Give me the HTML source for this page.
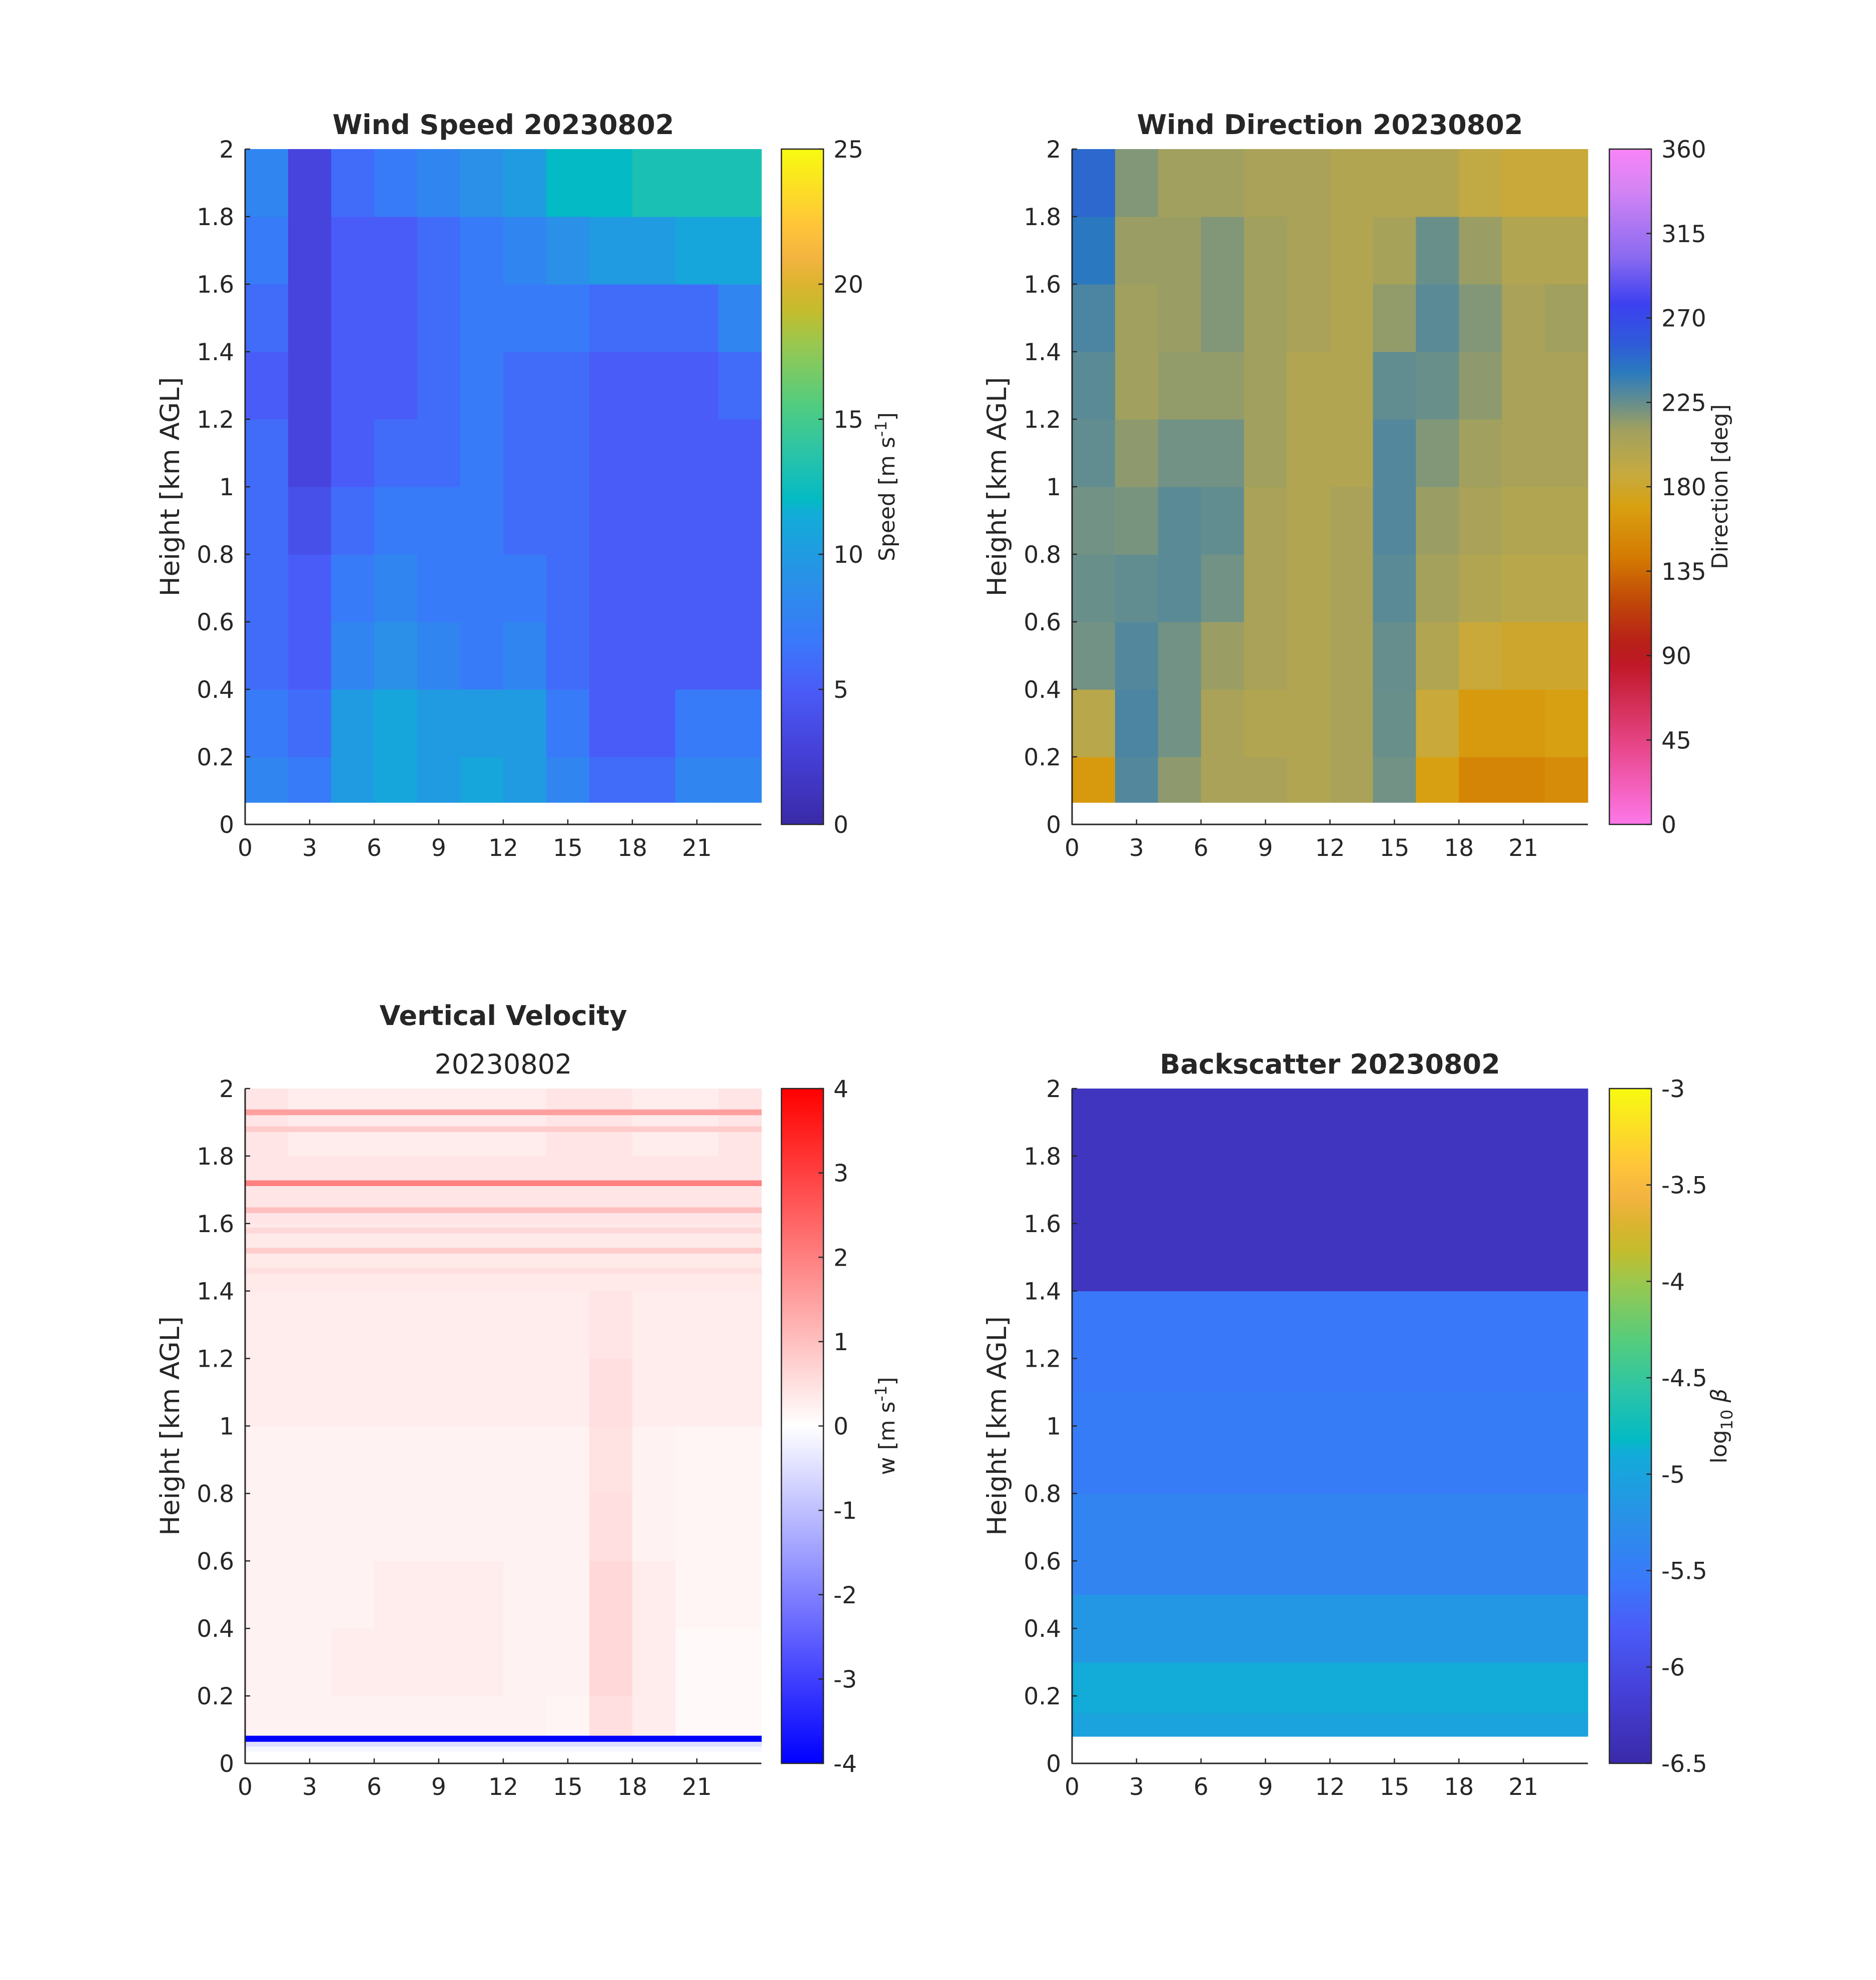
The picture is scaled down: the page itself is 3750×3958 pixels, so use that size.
<!DOCTYPE html>
<html><head><meta charset="utf-8"><style>
html,body{margin:0;padding:0;background:#fff}
svg{display:block}
text{font-family:"DejaVu Sans","Liberation Sans",sans-serif;fill:#262626}
</style></head><body>
<svg id="fig" width="3750" height="3958" viewBox="0 0 3750 3958" xmlns="http://www.w3.org/2000/svg">
<defs id="defs"></defs>
<g id="layer"></g>
</svg>
<script>
// ---------- data ----------
const hours = [1,3,5,7,9,11,13,15,17,19,21,23];
const heights = [0.1,0.3,0.5,0.7,0.9,1.1,1.3,1.5,1.7,1.9];
const xTicks = [0,3,6,9,12,15,18,21];
const yTicks = [0,0.2,0.4,0.6,0.8,1,1.2,1.4,1.6,1.8,2];
const yTickLabels = ["0","0.2","0.4","0.6","0.8","1","1.2","1.4","1.6","1.8","2"];

const speed01 = [8,7,10,11,10,11,10,8,6,6,8,8];
const speed03 = [7,6,10,11,10,10,10,7,5,5,7,7];
const speed05 = [6,5,8,9,8,7,8,6,5,5,5,5];
const speed07 = [6,5,7,8,7,7,7,6,5,5,5,5];
const speed09 = [6,4,6,7,7,7,6,6,5,5,5,5];
const speed11 = [6,3,5,6,6,7,6,6,5,5,5,5];
const speed13 = [5,3,5,5,6,7,6,6,5,5,5,6];
const speed15 = [6,3,5,5,6,7,7,7,6,6,6,8];
const speed17 = [7,3,5,5,6,7,8,9,10,10,11,11];
const speed19 = [8,3,6,7,8,9,10,12,12,13,13,13];
const speedTicks = [0,5,10,15,20,25];

const dir01 = [165,230,215,205,205,200,205,222,170,150,150,155];
const dir03 = [195,232,222,205,200,200,205,224,185,165,165,170];
const dir05 = [222,230,222,212,205,200,205,225,200,185,180,180];
const dir07 = [224,226,228,222,205,200,205,228,208,200,195,195];
const dir09 = [222,220,228,226,205,200,205,230,212,205,200,200];
const dir11 = [226,215,222,222,210,200,200,230,218,210,205,205];
const dir13 = [228,210,214,214,210,200,200,226,224,215,205,205];
const dir15 = [232,210,212,218,210,205,200,214,228,218,205,210];
const dir17 = [242,212,212,218,210,205,200,206,224,212,200,200];
const dir19 = [250,218,210,210,205,205,200,200,200,190,185,185];
const dirTicks = [0,45,90,135,180,225,270,315,360];

const w01 = [0.2,0.2,0.2,0.2,0.2,0.2,0.2,0.15,0.5,0.3,0.1,0.1];
const w03 = [0.2,0.2,0.3,0.3,0.3,0.3,0.2,0.2,0.6,0.3,0.1,0.1];
const w05 = [0.2,0.2,0.2,0.3,0.3,0.3,0.2,0.2,0.6,0.3,0.15,0.15];
const w07 = [0.2,0.2,0.2,0.2,0.2,0.2,0.2,0.2,0.5,0.2,0.15,0.15];
const w09 = [0.2,0.2,0.2,0.2,0.2,0.2,0.2,0.2,0.45,0.2,0.15,0.15];
const w11 = [0.3,0.3,0.3,0.3,0.3,0.3,0.3,0.3,0.5,0.3,0.3,0.3];
const w13 = [0.3,0.3,0.3,0.3,0.3,0.3,0.3,0.3,0.4,0.3,0.3,0.3];
const w15 = [0.35,0.35,0.35,0.35,0.35,0.35,0.35,0.35,0.35,0.35,0.35,0.35];
const w17 = [0.4,0.4,0.4,0.4,0.4,0.4,0.4,0.4,0.4,0.4,0.4,0.4];
const w19 = [0.4,0.3,0.3,0.3,0.3,0.3,0.3,0.4,0.4,0.3,0.3,0.4];
const wStripeHeights = [1.93,1.88,1.72,1.64,1.58,1.52,1.46];
const wStripeValues = [1.5,0.8,2.0,1.0,0.6,0.8,0.5];
const wTicks = [-4,-3,-2,-1,0,1,2,3,4];

const bsBottoms = [0.08,0.15,0.3,0.5,0.8,1.1,1.4];
const bsTops = [0.15,0.3,0.5,0.8,1.1,1.4,2.0];
const bsValues = [-5.0,-4.9,-5.15,-5.4,-5.5,-5.55,-6.32];
const bsTicks = [-6.5,-6,-5.5,-5,-4.5,-4,-3.5,-3];
const bsTickLabels = ["-6.5","-6","-5.5","-5","-4.5","-4","-3.5","-3"];

// ---------- colormaps ----------
const seqStops=[[0,"#3a2aa8"],[0.107,"#4540d8"],[0.2,"#4a5cf8"],[0.27,"#3a78fa"],[0.36,"#2a90e8"],[0.46,"#12acd8"],[0.48,"#04bac4"],[0.55,"#2ac4a8"],[0.62,"#50cc80"],[0.71,"#98c850"],[0.76,"#c4bc2c"],[0.8,"#dcb430"],[0.84,"#f4b440"],[0.885,"#ffc43a"],[1,"#f8fa10"]];
const dirStops=[[0,"#fc78ea"],[0.107,"#ea4a90"],[0.235,"#c01828"],[0.27,"#b82018"],[0.33,"#c04808"],[0.395,"#d47a02"],[0.47,"#d8a010"],[0.52,"#c6aa40"],[0.585,"#a0a060"],[0.62,"#6c9088"],[0.67,"#2a7abe"],[0.71,"#2e5cd8"],[0.77,"#3c40f0"],[0.84,"#8a6af0"],[0.94,"#d484f4"],[1,"#f884f8"]];
const bwrStops=[[0,"#0000ff"],[0.5,"#ffffff"],[1,"#ff0000"]];
function hex(h){return [parseInt(h.substr(1,2),16),parseInt(h.substr(3,2),16),parseInt(h.substr(5,2),16)];}
function mkmap(stops){return function(t){t=Math.max(0,Math.min(1,t));for(let i=1;i<stops.length;i++){if(t<=stops[i][0]){const a=stops[i-1],b=stops[i];const f=(t-a[0])/(b[0]-a[0]||1);const ca=hex(a[1]),cb=hex(b[1]);return 'rgb('+ca.map((v,k)=>Math.round(v+(cb[k]-v)*f)).join(',')+')';}}return stops[stops.length-1][1];};}
const NS="http://www.w3.org/2000/svg";
function mkgrad(id,stops){const d=document.getElementById('defs');const g=document.createElementNS(NS,'linearGradient');g.setAttribute('id',id);g.setAttribute('x1','0');g.setAttribute('y1','1');g.setAttribute('x2','0');g.setAttribute('y2','0');stops.forEach(s=>{const st=document.createElementNS(NS,'stop');st.setAttribute('offset',s[0]);st.setAttribute('stop-color',s[1]);g.appendChild(st);});d.appendChild(g);}
mkgrad('seq',seqStops);mkgrad('dirmap',dirStops);mkgrad('bwr',bwrStops);
const seq=mkmap(seqStops), dirmap=mkmap(dirStops), bwr=mkmap(bwrStops);

const layer=document.getElementById('layer');
function el(tag,attrs,parent){const e=document.createElementNS(NS,tag);for(const k in attrs)e.setAttribute(k,attrs[k]);(parent||layer).appendChild(e);return e;}

const panels=[
 {key:'speed',x0:490,x1:1522,y0:298,y1:1648,cb0:1562,cb1:1646,title:'Wind Speed 20230802',grad:'seq',ticks:speedTicks,tl:speedTicks.map(String),vmin:0,vmax:25,cmap:seq,cbLabel:'speed'},
 {key:'dir',x0:2143,x1:3174,y0:298,y1:1648,cb0:3217,cb1:3301,title:'Wind Direction 20230802',grad:'dirmap',ticks:dirTicks,tl:dirTicks.map(String),vmin:0,vmax:360,cmap:dirmap,cbLabel:'dir'},
 {key:'w',x0:490,x1:1522,y0:2176,y1:3525,cb0:1562,cb1:1646,title:'Vertical Velocity',sub:'20230802',grad:'bwr',ticks:wTicks,tl:wTicks.map(String),vmin:-4,vmax:4,cmap:bwr,cbLabel:'w'},
 {key:'bs',x0:2143,x1:3174,y0:2176,y1:3525,cb0:3217,cb1:3301,title:'Backscatter 20230802',grad:'seq',ticks:bsTicks,tl:bsTickLabels,vmin:-6.5,vmax:-3,cmap:seq,cbLabel:'bs'}
];

const speedGrid=[speed01,speed03,speed05,speed07,speed09,speed11,speed13,speed15,speed17,speed19];
const dirGrid=[dir01,dir03,dir05,dir07,dir09,dir11,dir13,dir15,dir17,dir19];
const wGrid=[w01,w03,w05,w07,w09,w11,w13,w15,w17,w19];

panels.forEach(p=>{
 const g=el('g',{});
 
 
 const X=t=>p.x0+(t/24)*(p.x1-p.x0);
 const Y=h=>p.y1-(h/2)*(p.y1-p.y0);
 const C=v=>p.cmap((v-p.vmin)/(p.vmax-p.vmin));
 const cells=el('g',{},g);
 
 
 function cell(t0,t1,h0,h1,v){const r=el('rect',{x:X(t0).toFixed(1),y:Y(h1).toFixed(1),width:(X(t1)-X(t0)+0.6).toFixed(1),height:(Y(h0)-Y(h1)+0.6).toFixed(1),fill:C(v)},cells);
  
  }
 if(p.key==='speed'||p.key==='dir'||p.key==='w'){
  const grid=p.key==='speed'?speedGrid:(p.key==='dir'?dirGrid:wGrid);
  const bottom=p.key==='w'?0.082:0.065;
  heights.forEach((h,i)=>{hours.forEach((t,j)=>{const h0=Math.max(bottom,h-0.1);cell(t-1,t+1,h0,h+0.1,grid[i][j]);});});
  if(p.key==='w'){
   wStripeHeights.forEach((h,i)=>cell(0,24,h-0.008,h+0.008,wStripeValues[i]));
   cell(0,24,0.064,0.082,-4);
   cell(0,24,0.05,0.064,-0.5);
   cell(0,24,0.036,0.05,-0.15);
  }
 } else {
  bsValues.forEach((v,i)=>cell(0,24,bsBottoms[i],bsTops[i],v));
 }
 const ax=el('g',{},g);
 
 
 el('line',{x1:p.x0,y1:p.y0,x2:p.x0,y2:p.y1+1,stroke:'#262626','stroke-width':3},ax);
 el('line',{x1:p.x0,y1:p.y1,x2:p.x1,y2:p.y1,stroke:'#262626','stroke-width':3},ax);
 xTicks.forEach(t=>{el('line',{x1:X(t),y1:p.y1,x2:X(t),y2:p.y1-10,stroke:'#262626','stroke-width':2.5},ax);
  const tx=el('text',{x:X(t),y:p.y1+63,'font-size':47,'text-anchor':'middle'},ax);tx.textContent=t;
  
  });
 yTicks.forEach((h,i)=>{el('line',{x1:p.x0,y1:Y(h),x2:p.x0+10,y2:Y(h),stroke:'#262626','stroke-width':2.5},ax);
  const tx=el('text',{x:p.x0-22,y:Y(h)+17,'font-size':47,'text-anchor':'end'},ax);tx.textContent=yTickLabels[i];
  
  });
 const yl=el('text',{x:0,y:0,'font-size':53,'text-anchor':'middle',transform:`translate(${p.x0-132},${(p.y0+p.y1)/2}) rotate(-90)`},ax);
 yl.textContent='Height [km AGL]';
 
 
 const ty=p.sub?p.y0-127:p.y0-30;
 const tt=el('text',{x:(p.x0+p.x1)/2,y:ty,'font-size':54,'font-weight':'bold','text-anchor':'middle'},g);
 tt.textContent=p.title;
 
 
 if(p.sub){const st=el('text',{x:(p.x0+p.x1)/2,y:p.y0-30,'font-size':54,'text-anchor':'middle'},g);st.textContent=p.sub;
  
  }
 const cb=el('g',{},g);
 
 
 el('rect',{x:p.cb0,y:p.y0,width:p.cb1-p.cb0,height:p.y1-p.y0,fill:`url(#${p.grad})`,stroke:'#262626','stroke-width':2.5},cb);
 const CY=v=>p.y1-((v-p.vmin)/(p.vmax-p.vmin))*(p.y1-p.y0);
 p.ticks.forEach((v,i)=>{el('line',{x1:p.cb1,y1:CY(v),x2:p.cb1-10,y2:CY(v),stroke:'#262626','stroke-width':2.5},cb);
  const tx=el('text',{x:p.cb1+20,y:CY(v)+17,'font-size':47},cb);tx.textContent=p.tl[i];
  
  });
 const lx=p.cb1+(p.key==='dir'?152:(p.key==='bs'?150:142));
 const lab=el('text',{x:0,y:0,'font-size':44,'text-anchor':'middle',transform:`translate(${lx},${(p.y0+p.y1)/2}) rotate(-90)`},cb);
 
 
 if(p.cbLabel==='speed'){lab.innerHTML='Speed [m s<tspan dy="-16" font-size="32">-1</tspan><tspan dy="16">]</tspan>';}
 else if(p.cbLabel==='w'){lab.innerHTML='w [m s<tspan dy="-16" font-size="32">-1</tspan><tspan dy="16">]</tspan>';}
 else if(p.cbLabel==='dir'){lab.textContent='Direction [deg]';}
 else {lab.innerHTML='log<tspan dy="12" font-size="32">10</tspan><tspan dy="-12" font-style="italic"> β</tspan>';}
});
</script>
</body></html>
